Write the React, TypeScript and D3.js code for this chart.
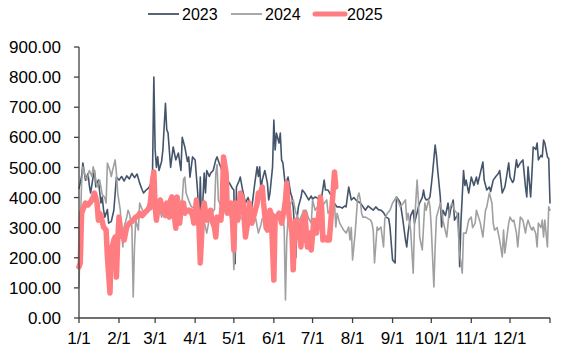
import React from 'react';
import * as d3 from 'd3';

// Day-of-year offsets of month starts and axis labels
const monthStarts = [0, 31, 59, 90, 120, 151, 181, 212, 243, 273, 304, 334];
const monthLabels = ['1/1', '2/1', '3/1', '4/1', '5/1', '6/1', '7/1', '8/1', '9/1', '10/1', '11/1', '12/1'];
const yTicks = [0, 100, 200, 300, 400, 500, 600, 700, 800, 900];
const seriesNames = ['2023', '2024', '2025'];

// [day of year, value]
const s2023: [number, number][] = [
  [0, 430], [2, 470], [3, 515], [5, 458], [7, 480], [8, 440], [9, 415], [11, 470], [12, 490], [13, 435],
  [15, 458], [17, 382], [18, 402], [19, 360], [20, 335], [22, 360], [23, 315], [25, 320], [27, 358], [29, 468],
  [31, 458], [33, 470], [35, 455], [37, 472], [39, 462], [41, 480], [43, 466], [45, 478], [47, 448], [49, 425],
  [50, 415], [52, 425], [54, 432], [56, 448], [57, 490], [58, 800], [59, 560], [60, 500], [61, 535], [62, 490],
  [64, 520], [65, 558], [67, 713], [68, 625], [69, 615], [71, 500], [73, 568], [75, 525], [77, 548], [79, 490],
  [80, 600], [82, 568], [84, 520], [85, 535], [86, 468], [88, 535], [90, 525], [91, 470], [92, 415], [93, 259],
  [94, 468], [95, 302], [97, 481], [98, 415], [99, 490], [101, 470], [102, 481], [104, 490], [106, 525], [107, 535],
  [109, 510], [110, 500], [112, 468], [114, 470], [115, 458], [117, 445], [119, 430], [120, 425], [121, 180], [122, 435],
  [124, 455], [125, 468], [127, 420], [129, 382], [131, 400], [133, 372], [134, 369], [136, 440], [138, 502], [139, 470],
  [140, 502], [141, 425], [142, 458], [144, 490], [146, 448], [147, 392], [148, 415], [150, 502], [151, 657], [152, 558],
  [153, 614], [155, 581], [156, 614], [157, 525], [158, 515], [160, 435], [161, 455], [162, 468], [164, 415], [165, 402],
  [166, 369], [167, 300], [168, 200], [169, 330], [170, 369], [172, 400], [173, 425], [175, 415], [177, 400], [178, 392],
  [180, 405], [181, 395], [183, 402], [185, 398], [186, 392], [188, 400], [190, 458], [191, 425], [193, 425], [195, 410],
  [197, 369], [198, 380], [200, 369], [202, 369], [204, 365], [206, 372], [207, 369], [209, 435], [211, 392], [213, 400],
  [215, 390], [217, 385], [218, 382], [220, 370], [222, 358], [224, 372], [226, 365], [228, 358], [230, 369], [232, 360],
  [234, 358], [236, 350], [238, 335], [240, 330], [241, 302], [243, 193], [245, 183], [246, 402], [248, 390], [249, 382],
  [251, 325], [253, 259], [254, 236], [255, 282], [257, 340], [259, 358], [260, 315], [262, 350], [263, 369], [264, 382],
  [266, 400], [267, 425], [268, 400], [269, 392], [271, 395], [272, 402], [273, 440], [274, 481], [276, 574], [277, 540],
  [278, 490], [280, 402], [281, 302], [282, 358], [284, 340], [286, 382], [287, 335], [288, 360], [290, 392], [291, 325],
  [293, 340], [294, 348], [295, 170], [296, 320], [298, 490], [299, 440], [300, 458], [302, 415], [304, 468], [306, 440],
  [308, 468], [309, 445], [311, 481], [313, 518], [314, 458], [316, 425], [318, 435], [319, 420], [321, 458], [323, 470],
  [325, 480], [326, 490], [328, 415], [330, 435], [331, 460], [333, 515], [334, 468], [336, 450], [337, 458], [339, 525],
  [340, 500], [342, 515], [344, 525], [346, 435], [347, 402], [348, 502], [350, 402], [351, 480], [352, 568], [354, 560],
  [355, 581], [356, 525], [358, 540], [359, 535], [360, 591], [361, 581], [363, 535], [364, 530], [365, 382],
];

const s2024: [number, number][] = [
  [0, 103], [1, 300], [2, 448], [3, 502], [5, 470], [6, 458], [8, 490], [10, 470], [11, 502], [13, 460],
  [14, 435], [16, 458], [18, 410], [20, 400], [21, 382], [22, 515], [24, 490], [25, 470], [26, 490], [28, 525],
  [29, 481], [30, 415], [32, 358], [33, 282], [34, 236], [35, 302], [37, 335], [38, 358], [39, 348], [41, 302],
  [42, 70], [43, 236], [44, 325], [46, 292], [47, 382], [49, 360], [51, 348], [53, 370], [54, 382], [56, 360],
  [58, 375], [59, 369], [61, 392], [62, 380], [64, 335], [65, 360], [67, 382], [69, 370], [71, 380], [73, 382],
  [75, 370], [78, 382], [80, 392], [81, 460], [82, 468], [83, 415], [85, 390], [87, 370], [89, 365], [91, 360],
  [93, 350], [95, 340], [97, 320], [99, 282], [101, 330], [103, 350], [105, 360], [106, 480], [107, 510], [108, 392],
  [110, 370], [112, 360], [114, 345], [116, 350], [118, 330], [119, 300], [120, 160], [121, 250], [122, 330], [124, 340],
  [126, 330], [128, 320], [130, 325], [132, 340], [134, 320], [135, 315], [137, 330], [139, 282], [141, 310], [142, 330],
  [144, 335], [146, 340], [148, 330], [150, 350], [152, 340], [154, 335], [156, 348], [158, 330], [159, 300], [160, 60],
  [161, 260], [162, 330], [164, 380], [166, 392], [168, 350], [170, 330], [171, 325], [173, 345], [174, 358], [176, 358],
  [178, 330], [180, 315], [181, 392], [183, 358], [185, 370], [187, 358], [188, 369], [190, 380], [192, 392], [193, 348],
  [195, 360], [197, 375], [198, 382], [199, 302], [200, 348], [202, 315], [204, 300], [205, 292], [207, 282], [209, 302],
  [210, 259], [211, 300], [212, 193], [214, 282], [216, 402], [217, 415], [218, 392], [219, 348], [220, 335], [222, 335],
  [224, 330], [226, 325], [227, 315], [228, 292], [229, 183], [231, 302], [232, 292], [234, 302], [236, 236], [237, 330],
  [239, 348], [241, 358], [243, 382], [246, 402], [248, 380], [249, 369], [251, 380], [253, 392], [254, 325], [255, 348],
  [257, 292], [259, 149], [260, 315], [262, 458], [263, 392], [264, 269], [266, 226], [268, 382], [269, 358], [271, 392],
  [272, 369], [273, 300], [275, 103], [276, 236], [277, 335], [279, 365], [280, 382], [282, 325], [285, 269], [287, 360],
  [289, 382], [291, 358], [293, 348], [295, 216], [297, 149], [298, 282], [300, 282], [302, 325], [304, 335], [305, 300],
  [307, 315], [308, 358], [310, 330], [311, 315], [313, 269], [315, 358], [316, 369], [318, 415], [320, 382], [321, 315],
  [322, 292], [324, 300], [326, 259], [328, 203], [329, 292], [330, 216], [332, 282], [333, 315], [334, 335], [336, 320],
  [337, 325], [339, 282], [340, 236], [342, 335], [344, 325], [346, 282], [347, 310], [348, 325], [350, 300], [351, 292],
  [352, 302], [354, 280], [355, 236], [356, 315], [358, 300], [359, 325], [360, 269], [361, 325], [363, 236], [364, 369],
  [365, 358],
];

const s2025: [number, number][] = [
  [0, 170], [1, 183], [2, 348], [4, 370], [5, 382], [7, 375], [9, 385], [11, 402], [12, 415], [14, 382],
  [15, 325], [16, 348], [17, 340], [19, 302], [21, 292], [22, 203], [24, 83], [25, 236], [26, 240], [27, 259],
  [28, 269], [29, 136], [30, 259], [31, 335], [32, 302], [33, 282], [35, 259], [37, 302], [39, 315], [41, 320],
  [42, 325], [44, 335], [46, 340], [47, 348], [49, 340], [51, 350], [53, 358], [55, 370], [56, 415], [57, 458],
  [58, 485], [59, 369], [60, 325], [61, 360], [63, 392], [65, 358], [67, 340], [68, 382], [70, 335], [71, 392],
  [72, 402], [73, 369], [75, 298], [76, 402], [77, 369], [78, 315], [79, 358], [81, 382], [82, 348], [84, 358],
  [86, 358], [88, 340], [89, 315], [91, 392], [92, 340], [93, 302], [94, 183], [96, 358], [97, 382], [99, 325],
  [101, 340], [102, 358], [103, 325], [105, 300], [106, 269], [107, 335], [109, 330], [110, 325], [111, 382], [112, 535],
  [114, 481], [115, 348], [117, 370], [118, 382], [119, 320], [120, 226], [121, 382], [123, 325], [124, 370], [125, 415],
  [127, 392], [128, 330], [129, 269], [131, 325], [132, 382], [134, 315], [136, 348], [138, 380], [139, 415], [141, 420],
  [142, 435], [143, 382], [145, 300], [146, 292], [148, 358], [149, 340], [151, 126], [152, 335], [154, 340], [155, 348],
  [157, 315], [159, 360], [160, 392], [161, 448], [162, 370], [163, 335], [165, 282], [166, 160], [167, 280], [168, 325],
  [170, 302], [172, 236], [173, 325], [174, 259], [175, 348], [177, 236], [179, 282], [180, 226], [182, 325], [184, 282],
  [186, 350], [187, 402], [188, 369], [189, 259], [190, 270], [192, 259], [194, 259], [196, 369], [197, 425], [198, 485],
  [199, 435],
];

const seriesData = [s2023, s2024, s2025];
const seriesColors = ['#44546A', '#A0A0A0', '#FF7C80'];
const seriesWidths = [1.6, 1.6, 5.5];

export default function App() {
  const W = 562;
  const H = 356;
  const left = 79;
  const right = 550;
  const top = 47;
  const bottom = 318;
  const x = d3.scaleLinear().domain([0, 365]).range([left, right]);
  const y = d3.scaleLinear().domain([0, 900]).range([bottom, top]);
  const line = d3
    .line<[number, number]>()
    .x((d) => x(d[0]))
    .y((d) => y(d[1]));

  const legendX = [148, 231, 313];
  const axisColor = '#404040';
  const font = "Arial, 'Liberation Sans', sans-serif";

  return (
    <svg
      width={W}
      height={H}
      style={{ position: 'absolute', left: 0, top: 0, background: '#fff' }}
      fontFamily={font}
    >
      {/* series */}
      {seriesData.map((s, i) => (
        <path
          key={seriesNames[i]}
          d={line(s) || ''}
          fill="none"
          stroke={seriesColors[i]}
          strokeWidth={seriesWidths[i]}
          strokeLinejoin="round"
          strokeLinecap="round"
        />
      ))}

      {/* y axis */}
      <line x1={left} x2={left} y1={y(900)} y2={bottom} stroke={axisColor} strokeWidth={1.3} />
      {yTicks.map((t) => (
        <g key={t}>
          <line x1={left - 5} x2={left} y1={y(t)} y2={y(t)} stroke={axisColor} strokeWidth={1.3} />
          <text x={61} y={y(t)} dy="0.36em" textAnchor="end" fontSize={17} fill="#000">
            {t.toFixed(2)}
          </text>
        </g>
      ))}

      {/* x axis */}
      <line x1={left} x2={right} y1={bottom} y2={bottom} stroke={axisColor} strokeWidth={1.3} />
      {[...monthStarts, 365].map((m) => (
        <line key={m} x1={x(m)} x2={x(m)} y1={bottom} y2={bottom + 5} stroke={axisColor} strokeWidth={1.3} />
      ))}
      {monthStarts.map((m, i) => (
        <text key={m} x={x(m)} y={344} textAnchor="middle" fontSize={17} fill="#000">
          {monthLabels[i]}
        </text>
      ))}

      {/* legend */}
      {seriesNames.map((n, i) => (
        <g key={n}>
          <line
            x1={legendX[i] + (i === 2 ? 2 : 0)}
            x2={legendX[i] + (i === 2 ? 32 : 31)}
            y1={14}
            y2={14}
            stroke={seriesColors[i]}
            strokeWidth={i === 2 ? 5 : 1.8}
            strokeLinecap={i === 2 ? 'round' : 'butt'}
          />
          <text x={legendX[i] + 34} y={20} fontSize={16} fill="#000">
            {n}
          </text>
        </g>
      ))}
    </svg>
  );
}
